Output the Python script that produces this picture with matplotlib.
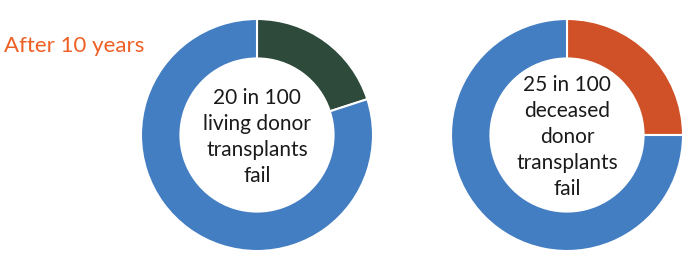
import matplotlib.pyplot as plt

# values
fail_living = [20, 80]
fail_deceased = [25, 75]
colors_living = ["#2E4A3B", "#437DC2"]
colors_deceased = ["#D05128", "#437DC2"]
labels = ["20 in 100\nliving donor\ntransplants\nfail",
          "25 in 100\ndeceased\ndonor\ntransplants\nfail"]
title = "After 10 years"

plt.rcParams['font.family'] = ['Lato', 'DejaVu Sans']

W, H = 700, 261
fig = plt.figure(figsize=(W / 100, H / 100), dpi=100)

centers = [(257, 135), (567, 135)]
r_px = 116
datas = [fail_living, fail_deceased]
cols = [colors_living, colors_deceased]

for (cx, cy), data, c, lab in zip(centers, datas, cols, labels):
    ax = fig.add_axes([(cx - r_px) / W, 1 - (cy + r_px) / H, 2 * r_px / W, 2 * r_px / H])
    ax.pie(data, colors=c, startangle=90, counterclock=False, radius=1,
           wedgeprops=dict(width=0.34, edgecolor="white", linewidth=1.5))
    ax.set_xlim(-1, 1)
    ax.set_ylim(-1, 1)
    ax.set_aspect("equal")
    ax.axis("off")
    ax.text(0, -0.02, lab, ha="center", va="center", fontsize=15,
            linespacing=1.38, color="#1a1a1a")

fig.text(4 / W, 1 - 46 / H, title, color="#EE5F24", fontsize=16,
         ha="left", va="center")

fig.savefig("out.png", dpi=100)
